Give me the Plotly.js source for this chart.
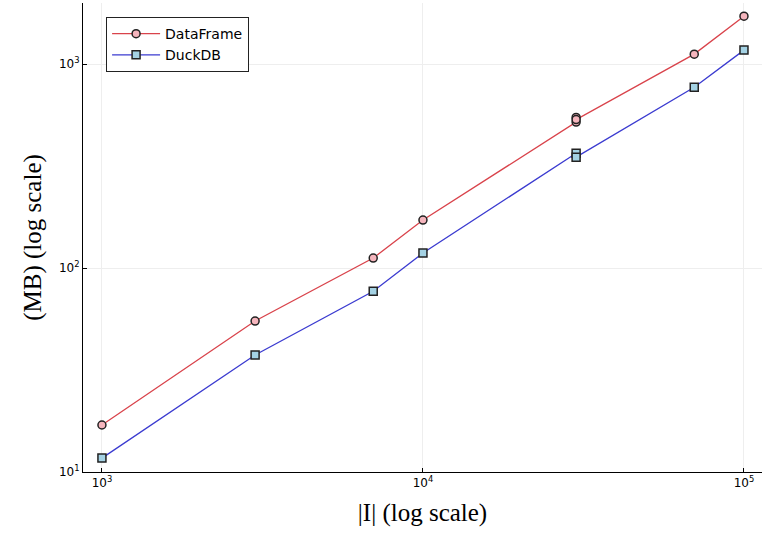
<!DOCTYPE html>
<html><head><meta charset="utf-8">
<script src="https://cdn.plot.ly/plotly-3.0.1.min.js"></script>
<style>body{margin:0;padding:0;background:#fff}#c{width:767px;height:533px}</style>
</head><body><div id="c"></div>
<script>
const dfX = [1000, 3000, 7000, 10000, 30000, 30000, 30000, 70000, 100000];
const dfY = [17.0, 55, 112, 172, 520, 548, 535, 1120, 1720];
const duckX = [1000, 3000, 7000, 10000, 30000, 30000, 70000, 100000];
const duckY = [11.7, 37.5, 77, 118.5, 366, 350, 771, 1172];
const xTickVals = [1000, 10000, 100000];
const xTickText = ['10<sup>3</sup>', '10<sup>4</sup>', '10<sup>5</sup>'];
const yTickVals = [10, 100, 1000];
const yTickText = ['10<sup>1</sup>', '10<sup>2</sup>', '10<sup>3</sup>'];

const traces = [
  {x: dfX, y: dfY, name: 'DataFrame', mode: 'lines+markers', type: 'scatter',
   line: {color: '#d9434b', width: 1.3},
   marker: {symbol: 'circle', size: 8, color: '#f5b5bd', line: {color: '#222', width: 1.5}}},
  {x: duckX, y: duckY, name: 'DuckDB', mode: 'lines+markers', type: 'scatter',
   line: {color: '#3b3bd0', width: 1.3},
   marker: {symbol: 'square', size: 8, color: '#a4d2e4', line: {color: '#222', width: 1.5}}}
];
const layout = {
  width: 767, height: 533,
  margin: {l: 83, r: 5, t: 3, b: 61},
  paper_bgcolor: '#fff', plot_bgcolor: '#fff',
  font: {family: 'DejaVu Sans', size: 12, color: '#000'},
  showlegend: true,
  legend: {x: 0.034, y: 0.97, xanchor: 'left', yanchor: 'top', bgcolor: '#fff',
    bordercolor: '#222', borderwidth: 1, font: {family: 'DejaVu Sans', size: 14},
    tracegroupgap: 0, itemwidth: 48},
  xaxis: {type: 'log', range: [Math.log10(873), Math.log10(113800)],
    tickvals: xTickVals, ticktext: xTickText, ticks: 'inside', ticklen: 4, tickcolor: '#000',
    showline: true, linecolor: '#000', linewidth: 1, mirror: false,
    showgrid: true, gridcolor: '#eeeeee', gridwidth: 1, zeroline: false,
    tickfont: {family: 'DejaVu Sans', size: 12},
    title: {text: '|I| (log scale)', font: {family: 'Liberation Serif', size: 25}, standoff: 14}},
  yaxis: {type: 'log', range: [1, 3.3],
    tickvals: yTickVals, ticktext: yTickText, ticks: 'inside', ticklen: 4, tickcolor: '#000',
    showline: true, linecolor: '#000', linewidth: 1, mirror: false,
    showgrid: true, gridcolor: '#eeeeee', gridwidth: 1, zeroline: false,
    tickfont: {family: 'DejaVu Sans', size: 12},
    title: {text: '(MB) (log scale)', font: {family: 'Liberation Serif', size: 25}, standoff: 10}}
};
Plotly.newPlot('c', traces, layout, {displayModeBar: false, staticPlot: true});
</script></body></html>
